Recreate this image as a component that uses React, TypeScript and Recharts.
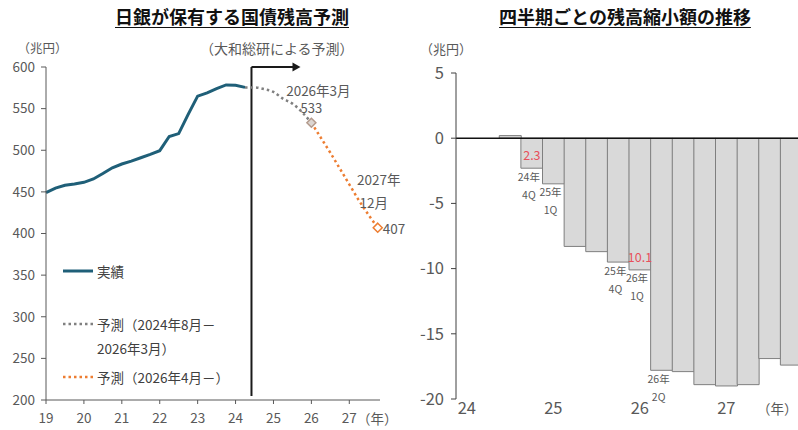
import React from "react";
import {
  LineChart,
  Line,
  XAxis,
  YAxis,
  ReferenceLine,
  Legend,
  BarChart,
  Bar,
  LabelList,
} from "recharts";

// ---- left chart: BOJ JGB holdings (兆円) ----
const yearTicks = [19, 20, 21, 22, 23, 24, 25, 26, 27];
const valueTicks = [200, 250, 300, 350, 400, 450, 500, 550, 600];

const actualX = [19, 19.25, 19.5, 19.75, 20, 20.25, 20.5, 20.75, 21, 21.25, 21.5, 21.75, 22, 22.25, 22.5, 22.75, 23, 23.25, 23.5, 23.75, 24, 24.25];
const actualValues = [449, 454.5, 458, 459.5, 461.5, 465.5, 472, 479, 483.5, 487, 491, 495, 499.5, 516.5, 520, 543, 565, 569, 574, 578.5, 578, 575.5];

const nearX = [24.25, 24.5, 24.75, 25, 25.25, 25.5, 25.75, 26];
const nearValues = [575.5, 575.5, 573.5, 570, 562, 556, 546, 533];

const farX = [26, 26.25, 26.5, 26.75, 27, 27.25, 27.5, 27.75];
const farValues = [533, 515, 497, 478, 459, 440, 423, 407];
const farNotes = [["2026年3月"], [], [], [], [], [], [], ["2027年", "12月"]];

const forecastStart = 24.42;

const seriesNames = ["実績", "予測（2024年8月－2026年3月）", "予測（2026年4月－）"];
const legendLines = [["実績"], ["予測（2024年8月－", "2026年3月）"], ["予測（2026年4月－）"]];

// ---- right chart: quarterly change (兆円) ----
const quarters = ["24Q1", "24Q2", "24Q3", "24Q4", "25Q1", "25Q2", "25Q3", "25Q4", "26Q1", "26Q2", "26Q3", "26Q4", "27Q1", "27Q2", "27Q3", "27Q4"];
const changes = [null, null, 0.2, -2.3, -3.5, -8.3, -8.7, -9.5, -10.1, -17.8, -17.9, -18.9, -19.0, -18.9, -16.9, -17.4];
const quarterCaptions = [[], [], [], ["24年", "4Q"], ["25年", "1Q"], [], [], ["25年", "4Q"], ["26年", "1Q"], ["26年", "2Q"], [], [], [], [], [], []];
const highlightQuarters = ["24Q4", "26Q1"];
const yearTickQuarters = ["24Q1", "25Q1", "26Q1", "27Q1"];
const changeTicks = [5, 0, -5, -10, -15, -20];

const FONT = "'Noto Sans CJK JP', 'Noto Sans', sans-serif";
const GRAY_TEXT = "#595959";
const BLUE = "#1f5f78";
const GRAY_LINE = "#808080";
const ORANGE = "#ed7d31";
const RED = "#e8505b";

const toPoints = (xs: number[], vs: number[]) => xs.map((x, i) => ({ x, v: vs[i] }));
const actualData = toPoints(actualX, actualValues);
const nearData = toPoints(nearX, nearValues);
const farData = toPoints(farX, farValues);
const barData = quarters.map((q, i) => ({ q, v: changes[i] }));

const DividerArrow = (props: any) => {
  const { x1, y1, y2 } = props;
  const top = Math.min(y1, y2);
  const bottom = Math.max(y1, y2);
  return (
    <g>
      <line x1={x1} y1={top} x2={x1} y2={bottom - 4} stroke="#1a1a1a" strokeWidth={2} />
      <line x1={x1} y1={top} x2={x1 + 42} y2={top} stroke="#1a1a1a" strokeWidth={2} />
      <polygon points={`${x1 + 41},${top - 4.5} ${x1 + 49},${top} ${x1 + 41},${top + 4.5}`} fill="#1a1a1a" />
    </g>
  );
};

const diamond = (cx: number, cy: number, r: number) =>
  `${cx},${cy - r} ${cx + r},${cy} ${cx},${cy + r} ${cx - r},${cy}`;

const FarDot = (props: any) => {
  const { cx, cy, index, payload } = props;
  const notes = farNotes[index] || [];
  if (!notes.length) return <g key={`fd${index}`} />;
  const label = String(Math.round(payload.v));
  const txt = { fontSize: 13.5, fill: GRAY_TEXT, dominantBaseline: "central" as const };
  if (index === 0) {
    return (
      <g key={`fd${index}`}>
        <polygon points={diamond(cx, cy, 4.5)} fill="#dcd6d2" stroke="#b39a8c" strokeWidth={1.5} />
        <text x={cx + 7} y={cy - 33} textAnchor="middle" {...txt}>{notes[0]}</text>
        <text x={cx} y={cy - 15} textAnchor="middle" fontSize={13} fill={GRAY_TEXT} dominantBaseline="central">{label}</text>
      </g>
    );
  }
  return (
    <g key={`fd${index}`}>
      <polygon points={diamond(cx, cy, 4.5)} fill="#fff" stroke={ORANGE} strokeWidth={1.5} />
      <text x={cx + 1} y={cy - 49} textAnchor="middle" {...txt}>{notes[0]}</text>
      <text x={cx - 4} y={cy - 26} textAnchor="middle" {...txt}>{notes[1]}</text>
      <text x={cx + 5} y={cy} textAnchor="start" {...txt}>{label}</text>
    </g>
  );
};

const LegendBox = () => {
  const rows = [
    { color: BLUE, dash: undefined, width: 3, ys: [13] },
    { color: GRAY_LINE, dash: "2.5 3", width: 2.5, ys: [66, 90] },
    { color: ORANGE, dash: "2.5 3", width: 2.5, ys: [119] },
  ];
  return (
    <svg width={230} height={135} style={{ fontFamily: FONT, overflow: "visible" }}>
      {rows.map((r, i) => (
        <g key={seriesNames[i]}>
          <line x1={3} y1={r.ys[0]} x2={33} y2={r.ys[0]} stroke={r.color} strokeWidth={r.width} strokeDasharray={r.dash} />
          {legendLines[i].map((t, k) => (
            <text key={k} x={37} y={r.ys[k]} fontSize={13.5} fill="#404040" dominantBaseline="central">{t}</text>
          ))}
        </g>
      ))}
    </svg>
  );
};

const BarNote = (props: any) => {
  const i = quarters.indexOf(props.value);
  const vb = props.viewBox ?? props;
  const { x, y, width, height } = vb;
  if (i < 0 || x == null || changes[i] == null) return null;
  const cx = x + width / 2;
  const bottom = Math.max(y, y + height);
  const caption = quarterCaptions[i];
  const flagged = highlightQuarters.includes(quarters[i]);
  return (
    <g>
      {flagged && (
        <text x={cx} y={bottom - 13.5} textAnchor="middle" dominantBaseline="central" fontSize={12.5} fill={RED}>
          {Math.abs(changes[i] as number).toFixed(1)}
        </text>
      )}
      {caption.map((t, k) => (
        <text key={k} x={cx - 3} y={bottom + 8 + k * 18} textAnchor="middle" dominantBaseline="central" fontSize={10.5} fill={GRAY_TEXT}>
          {t}
        </text>
      ))}
    </g>
  );
};

const titleStyle = (center: number): React.CSSProperties => ({
  position: "absolute",
  left: center - 250,
  top: 6,
  width: 500,
  textAlign: "center",
  fontSize: 18,
  fontWeight: 700,
  lineHeight: "20px",
  color: "#111",
  textDecoration: "underline",
  textUnderlineOffset: 3,
  whiteSpace: "nowrap",
});

export default function App() {
  return (
    <div style={{ position: "absolute", left: 0, top: 0, width: 798, height: 430, overflow: "hidden", background: "#fff", fontFamily: FONT }}>
      <div style={{ position: "absolute", left: 0, top: 0 }}>
        <LineChart width={412} height={430} margin={{ top: 67, right: 32, bottom: 0, left: 0 }}>
          <XAxis
            type="number"
            dataKey="x"
            domain={[19, 27.81]}
            ticks={yearTicks}
            height={30}
            tickSize={4}
            tickMargin={9}
            stroke="#595959"
            tick={{ fontSize: 13.5, fill: GRAY_TEXT }}
          />
          <YAxis
            type="number"
            domain={[200, 600]}
            ticks={valueTicks}
            width={46}
            tickSize={5}
            tickMargin={6}
            stroke="#595959"
            tick={{ fontSize: 13.5, fill: GRAY_TEXT }}
          />
          <ReferenceLine x={forecastStart} shape={DividerArrow} />
          <Line data={actualData} dataKey="v" name={seriesNames[0]} stroke={BLUE} strokeWidth={3} dot={false} type="linear" isAnimationActive={false} />
          <Line data={nearData} dataKey="v" name={seriesNames[1]} stroke={GRAY_LINE} strokeWidth={2.5} strokeDasharray="2.5 3" dot={false} type="monotone" isAnimationActive={false} />
          <Line data={farData} dataKey="v" name={seriesNames[2]} stroke={ORANGE} strokeWidth={2.5} strokeDasharray="2.5 3" dot={FarDot} type="monotone" isAnimationActive={false} />
          <Legend
            layout="vertical"
            align="center"
            verticalAlign="middle"
            wrapperStyle={{ left: 60, top: 258, width: 230, height: 135 }}
            content={LegendBox}
          />
        </LineChart>
      </div>

      <div style={{ position: "absolute", left: 400, top: 0 }}>
        <BarChart width={402} height={430} data={barData} margin={{ top: 73, right: 0, bottom: 0, left: 0 }} barCategoryGap={0} barGap={0}>
          <XAxis
            dataKey="q"
            ticks={yearTickQuarters}
            interval={0}
            tickFormatter={(q: string) => q.slice(0, 2)}
            axisLine={false}
            tickLine={false}
            height={31}
            tickSize={0}
            tickMargin={3}
            tick={{ fontSize: 16.5, fill: GRAY_TEXT }}
          />
          <YAxis
            type="number"
            domain={[-20, 5]}
            ticks={changeTicks}
            width={56}
            tickSize={5}
            tickMargin={7}
            stroke="#404040"
            tick={{ fontSize: 16.5, fill: GRAY_TEXT }}
          />
          <Bar dataKey="v" fill="#d9d9d9" stroke="#7f7f7f" strokeWidth={1} isAnimationActive={false}>
            <LabelList dataKey="q" content={BarNote} />
          </Bar>
          <ReferenceLine y={0} stroke="#111" strokeWidth={1.5} />
        </BarChart>
      </div>

      <div style={titleStyle(232)}>日銀が保有する国債残高予測</div>
      <div style={titleStyle(625)}>四半期ごとの残高縮小額の推移</div>

      <svg width={798} height={430} style={{ position: "absolute", left: 0, top: 0, pointerEvents: "none", fontFamily: FONT }}>
        <text x={17.5} y={47} fontSize={12.5} fill={GRAY_TEXT} dominantBaseline="central">（兆円）</text>
        <text x={200} y={48} fontSize={14} fill={GRAY_TEXT} dominantBaseline="central">（大和総研による予測）</text>
        <text x={357} y={418} fontSize={13.5} fill={GRAY_TEXT} dominantBaseline="central">（年）</text>
        <text x={420} y={48} fontSize={13} fill={GRAY_TEXT} dominantBaseline="central">（兆円）</text>
        <text x={757} y={408} fontSize={13.5} fill={GRAY_TEXT} dominantBaseline="central">（年）</text>
      </svg>
    </div>
  );
}
